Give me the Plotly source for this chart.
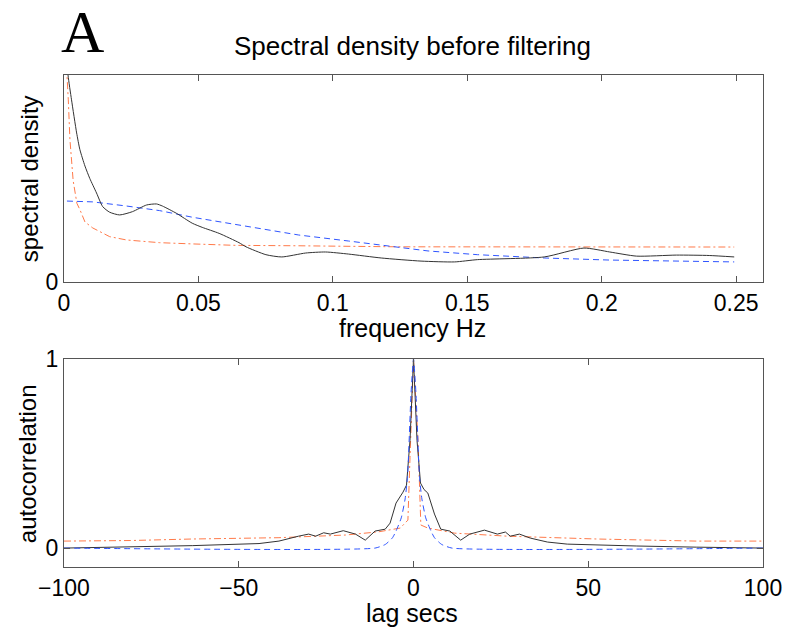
import plotly.graph_objects as go

# ---------------- data: spectral density (top panel) ----------------
freq_black = [0.0008, 0.0015, 0.0028, 0.0047, 0.0059, 0.0078, 0.0096, 0.0121, 0.0144, 0.0170,
              0.0207, 0.0255, 0.0307, 0.0344, 0.0366, 0.0418, 0.0477, 0.0514, 0.0577, 0.0651,
              0.0677, 0.0751, 0.0810, 0.0899, 0.0973, 0.1058, 0.1180, 0.1328, 0.1453, 0.1538,
              0.1786, 0.1934, 0.2030, 0.2130, 0.2278, 0.2400, 0.2493]
sd_black = [1.15, 1.00, 0.88, 0.72, 0.64, 0.56, 0.50, 0.43, 0.364, 0.337,
            0.324, 0.340, 0.372, 0.377, 0.367, 0.332, 0.284, 0.264, 0.235, 0.190,
            0.170, 0.132, 0.121, 0.140, 0.145, 0.135, 0.116, 0.101, 0.097, 0.108,
            0.121, 0.164, 0.145, 0.125, 0.130, 0.128, 0.121]

freq_blue = [0.0011, 0.0107, 0.0233, 0.0355, 0.0477, 0.0651, 0.0873, 0.1058, 0.1243,
             0.1354, 0.1538, 0.1786, 0.2030, 0.2493]
sd_blue = [0.391, 0.387, 0.367, 0.345, 0.313, 0.275, 0.227, 0.198, 0.166,
           0.150, 0.132, 0.116, 0.106, 0.097]

freq_orange = [0.0004, 0.0011, 0.0016, 0.0022, 0.0034, 0.0048, 0.0059, 0.0078, 0.0107,
               0.0170, 0.0233, 0.0355, 0.0477, 0.0640, 0.0873, 0.1243, 0.2493]
sd_orange = [1.40, 1.00, 0.88, 0.69, 0.49, 0.38, 0.35, 0.29, 0.261,
             0.219, 0.203, 0.190, 0.184, 0.177, 0.175, 0.170, 0.169]

# ---------------- data: autocorrelation (bottom panel) ----------------
lag_black = [-100, -80.6, -63.3, -44.2, -38.5, -32.9, -30.0, -28.0, -25.7, -23.8, -20.1,
             -16.6, -13.8, -11.0, -8.1, -6.7, -5.0, -3.0, -2.0, -1.0, 0,
             1.0, 2.0, 3.0, 4.1, 6.0, 7.8, 10.4, 13.5, 16.1, 20.3, 24.0, 26.3, 27.7,
             30.3, 33.4, 38.3, 44.0, 52.5, 63.9, 80.9, 100]
ac_black = [0.0, 0.005, 0.013, 0.024, 0.037, 0.063, 0.074, 0.063, 0.081, 0.074, 0.092,
            0.074, 0.042, 0.090, 0.100, 0.132, 0.238, 0.296, 0.333, 0.57, 1.0,
            0.57, 0.344, 0.31, 0.291, 0.18, 0.100, 0.090, 0.042, 0.074, 0.095, 0.074, 0.085, 0.063,
            0.074, 0.053, 0.032, 0.021, 0.016, 0.011, 0.005, 0.0]

lag_blue = [-100, -11.0, -8.0, -6.0, -5.0, -3.5, -2.4, -1.7, -0.7, 0,
            0.7, 1.7, 2.4, 3.5, 5.0, 6.0, 8.0, 11.0, 100]
ac_blue = [0.0, 0.0, 0.02, 0.055, 0.09, 0.16, 0.26, 0.38, 0.82, 1.0,
           0.82, 0.38, 0.26, 0.16, 0.09, 0.055, 0.02, 0.0, 0.0]

lag_orange = [-100, -80.9, -63.3, -44.2, -38.5, -19.5, -10.0, -3.8, -1.6, -1.0, 0,
              1.3, 2.1, 4.1, 11.8, 21.2, 26.9, 52.5, 80.9, 100]
ac_orange = [0.037, 0.040, 0.048, 0.053, 0.055, 0.069, 0.086, 0.106, 0.148, 0.48, 1.0,
             0.57, 0.122, 0.106, 0.079, 0.069, 0.063, 0.048, 0.037, 0.037]

freq_ticks = [0, 0.05, 0.1, 0.15, 0.2, 0.25]
freq_tick_text = ["0", "0.05", "0.1", "0.15", "0.2", "0.25"]
lag_ticks = [-100, -50, 0, 50, 100]
lag_tick_text = ["\u2212100", "\u221250", "0", "50", "100"]

# ---------------- styling ----------------
BLACK = "#333333"
BLUE = "#2f55ff"
ORANGE = "#ff7a4a"
AXC = "#555555"
FONT = "Liberation Sans, Arial, Helvetica, sans-serif"

fig = go.Figure()

fig.add_trace(go.Scatter(x=freq_orange, y=sd_orange, mode="lines",
                         line=dict(color=ORANGE, width=1, dash="7px,3px,2px,3px"),
                         xaxis="x", yaxis="y", showlegend=False))
fig.add_trace(go.Scatter(x=freq_blue, y=sd_blue, mode="lines",
                         line=dict(color=BLUE, width=1, dash="6px,4px"),
                         xaxis="x", yaxis="y", showlegend=False))
fig.add_trace(go.Scatter(x=freq_black, y=sd_black, mode="lines",
                         line=dict(color=BLACK, width=1, shape="spline", smoothing=0.6),
                         xaxis="x", yaxis="y", showlegend=False))

fig.add_trace(go.Scatter(x=lag_orange, y=ac_orange, mode="lines",
                         line=dict(color=ORANGE, width=1, dash="7px,3px,2px,3px"),
                         xaxis="x2", yaxis="y2", showlegend=False))
fig.add_trace(go.Scatter(x=lag_black, y=ac_black, mode="lines",
                         line=dict(color=BLACK, width=1),
                         xaxis="x2", yaxis="y2", showlegend=False))
fig.add_trace(go.Scatter(x=lag_blue, y=ac_blue, mode="lines",
                         line=dict(color=BLUE, width=1, dash="6px,4px", shape="spline", smoothing=0.5),
                         xaxis="x2", yaxis="y2", showlegend=False))

axis_common = dict(showline=True, linecolor=AXC, linewidth=1, mirror="ticks",
                   ticks="inside", ticklen=6, tickcolor=AXC, tickwidth=1,
                   showgrid=False, zeroline=False,
                   tickfont=dict(family=FONT, size=23, color="black"))

H_PLOT = 627 - 75 - 60
top_lo = (567 - 282) / H_PLOT
bot_hi = (567 - 359) / H_PLOT

fig.update_layout(
    width=794, height=627,
    margin=dict(l=64, r=27, t=75, b=60),
    paper_bgcolor="white", plot_bgcolor="white",
    xaxis=dict(domain=[0, 1], range=[0, 0.26], tickvals=freq_ticks, ticktext=freq_tick_text,
               anchor="y", **axis_common),
    yaxis=dict(domain=[top_lo, 1], range=[0, 1], tickvals=[0], ticktext=["0"],
               anchor="x", **axis_common),
    xaxis2=dict(domain=[0, 1], range=[-100, 100], tickvals=lag_ticks, ticktext=lag_tick_text,
                anchor="y2", **axis_common),
    yaxis2=dict(domain=[0, bot_hi], range=[-0.1, 1], tickvals=[0, 1], ticktext=["0", "1"],
                anchor="x2", **axis_common),
)

def px_x(px):
    return (px - 64) / 703

def px_y(py):
    return (567 - py) / H_PLOT

ann = [
    dict(text="A", x=px_x(60), y=px_y(32), xanchor="left", yanchor="middle",
         font=dict(family="Liberation Serif, Times New Roman, serif", size=60, color="black")),
    dict(text="Spectral density before filtering", x=px_x(414), y=px_y(46),
         xanchor="center", yanchor="middle", font=dict(family=FONT, size=26, color="black")),
    dict(text="frequency Hz", x=px_x(414), y=px_y(313),
         xanchor="center", yanchor="top", font=dict(family=FONT, size=25, color="black")),
    dict(text="lag secs", x=px_x(414), y=px_y(598),
         xanchor="center", yanchor="top", font=dict(family=FONT, size=25, color="black")),
    dict(text="spectral density", x=px_x(29), y=px_y(179), textangle=-90,
         xanchor="center", yanchor="middle", font=dict(family=FONT, size=24, color="black")),
    dict(text="autocorrelation", x=px_x(27), y=px_y(464), textangle=-90,
         xanchor="center", yanchor="middle", font=dict(family=FONT, size=24, color="black")),
]
for a in ann:
    a.update(xref="paper", yref="paper", showarrow=False, borderpad=0)
fig.update_layout(annotations=ann)

fig.write_html("out.html")
